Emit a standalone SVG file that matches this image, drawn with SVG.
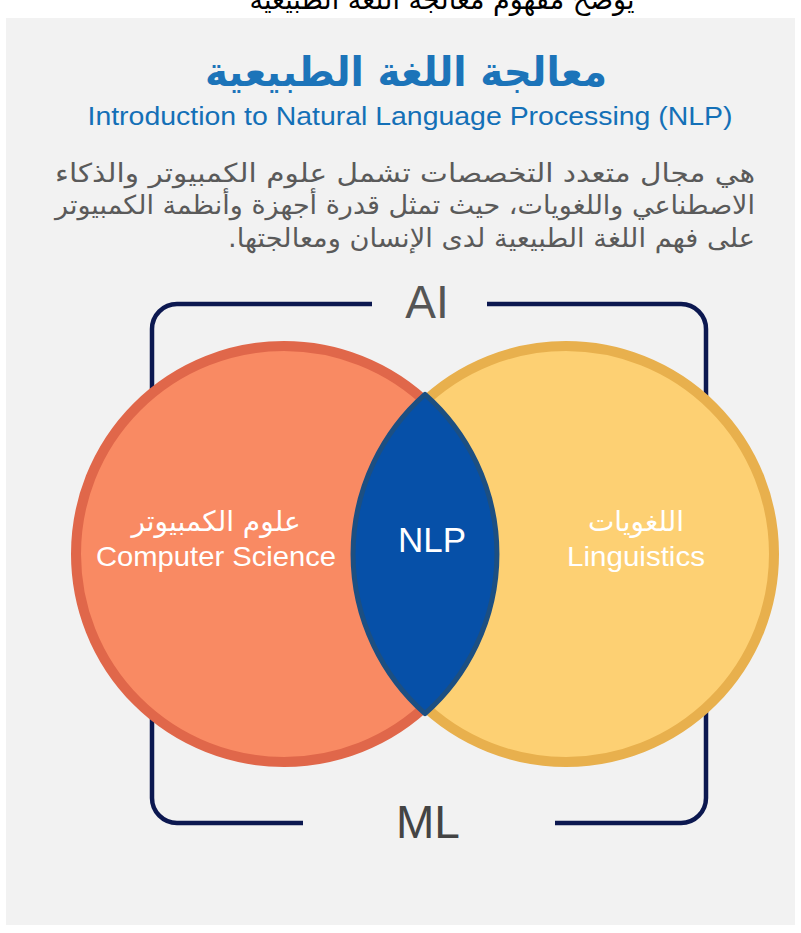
<svg xmlns="http://www.w3.org/2000/svg" width="801" height="933" viewBox="0 0 801 933">
<style>
.ar{font-family:"DejaVu Sans","Noto Sans",sans-serif;direction:rtl}
.en{font-family:"Liberation Sans","Roboto",sans-serif}
.br{fill:none;stroke:#0c1850;stroke-width:4.5}
</style>
<rect x="0" y="0" width="801" height="933" fill="#ffffff"/>
<rect x="6" y="18" width="789" height="907" fill="#f2f2f2"/>
<g id="caption">
<text x="442" y="9" font-size="28" text-anchor="middle" fill="#000" font-family="DejaVu Serif,DejaVu Sans,serif" direction="rtl" textLength="385" lengthAdjust="spacingAndGlyphs">يوضح مفهوم معالجة اللغة الطبيعية</text>
</g>
<g id="title">
<text class="ar" x="406" y="86" font-size="41" text-anchor="middle" fill="#1c74b9" font-weight="bold" textLength="402" lengthAdjust="spacingAndGlyphs">معالجة اللغة الطبيعية</text>
<text class="en" x="410" y="125" font-size="26" text-anchor="middle" fill="#1470b7" textLength="645" lengthAdjust="spacingAndGlyphs">Introduction to Natural Language Processing (NLP)</text>
</g>
<g id="description" fill="#5a5a5a" font-size="26">
<text class="ar" x="755" y="182" text-anchor="start" textLength="700" lengthAdjust="spacingAndGlyphs">هي مجال متعدد التخصصات تشمل علوم الكمبيوتر والذكاء</text>
<text class="ar" x="755" y="214" text-anchor="start" textLength="700" lengthAdjust="spacingAndGlyphs">الاصطناعي واللغويات، حيث تمثل قدرة أجهزة وأنظمة الكمبيوتر</text>
<text class="ar" x="755" y="247" text-anchor="start" textLength="527" lengthAdjust="spacingAndGlyphs">على فهم اللغة الطبيعية لدى الإنسان ومعالجتها.</text>
</g>
<g id="connectors">
<path class="br" d="M372,304 H177 A25,25 0 0 0 152,329 V430"/>
<path class="br" d="M487,304 H681 A25,25 0 0 1 706,329 V430"/>
<path class="br" d="M303,823 H177 A25,25 0 0 1 152,798 V680"/>
<path class="br" d="M555,823 H681 A25,25 0 0 0 706,798 V680"/>
</g>
<g id="ai-label">
<text class="en" x="427" y="318" font-size="46" text-anchor="middle" fill="#555555">AI</text>
</g>
<g id="ml-label">
<text class="en" x="428" y="838" font-size="46" text-anchor="middle" fill="#444444">ML</text>
</g>
<g id="computer-science">
<circle cx="284" cy="554" r="208" fill="#f98a63" stroke="#e0674a" stroke-width="10"/>
</g>
<g id="linguistics">
<circle cx="566" cy="554" r="208" fill="#fdd073" stroke="#e8b04d" stroke-width="10"/>
</g>
<g id="nlp">
<path d="M425,394.4 A213,213 0 0 1 425,713.6 A213,213 0 0 1 425,394.4 Z" fill="#0650a8" stroke="#1c4f82" stroke-width="5" stroke-linejoin="round"/>
<text class="en" x="432" y="552" font-size="35" text-anchor="middle" fill="#ffffff">NLP</text>
</g>
<g id="cs-text" fill="#ffffff">
<text class="ar" x="216" y="531" font-size="28" text-anchor="middle">علوم الكمبيوتر</text>
<text class="en" x="216" y="566" font-size="28" text-anchor="middle" textLength="240" lengthAdjust="spacingAndGlyphs">Computer Science</text>
</g>
<g id="ling-text" fill="#ffffff">
<text class="ar" x="636" y="531" font-size="28" text-anchor="middle">اللغويات</text>
<text class="en" x="636" y="566" font-size="28" text-anchor="middle" textLength="138" lengthAdjust="spacingAndGlyphs">Linguistics</text>
</g>
</svg>
